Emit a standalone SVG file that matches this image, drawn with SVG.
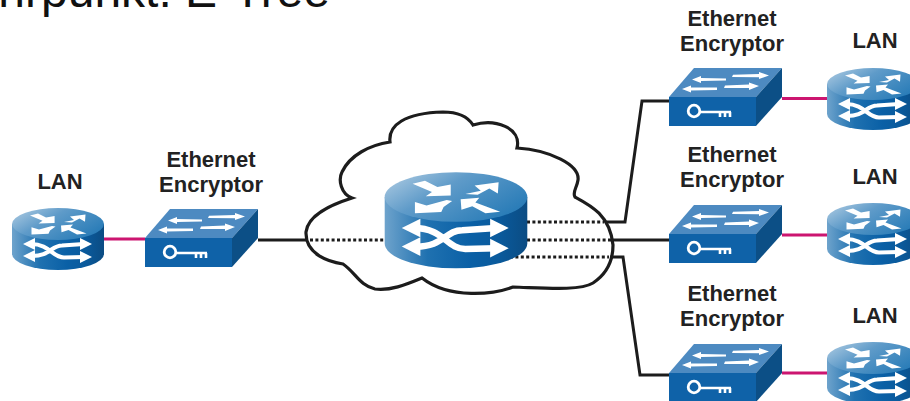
<svg xmlns="http://www.w3.org/2000/svg" width="910" height="401" viewBox="0 0 910 401">
<style>
text{font-family:"Liberation Sans",Arial,sans-serif;fill:#222}
.lbl{font-size:22px;font-weight:700;text-anchor:middle}
.title{font-size:48px;fill:#111;text-anchor:end}
.blk{fill:none;stroke:#1c1c1c;stroke-width:3}
.pnk{fill:none;stroke:#cc1570;stroke-width:3}
.dot{fill:none;stroke:#1c1c1c;stroke-width:3;stroke-dasharray:3 2.4}
.w{fill:#fff}
.ws{fill:none;stroke:#fff;stroke-width:4.2}
</style>
<defs>
<linearGradient id="rside" x1="0" x2="1" y1="0" y2="0"><stop offset="0" stop-color="#6ea3cc"/><stop offset=".3" stop-color="#1f71b0"/><stop offset=".6" stop-color="#0a60a6"/><stop offset=".8" stop-color="#0a5a9c"/><stop offset="1" stop-color="#0b4c83"/></linearGradient>
<linearGradient id="rtop" x1="0" x2="1" y1="0" y2=".6"><stop offset="0" stop-color="#b4cfe4"/><stop offset=".45" stop-color="#5f9bc9"/><stop offset="1" stop-color="#2b7db8"/></linearGradient>
<g id="router">
<path d="M-46,0V30A46,16 0 0 0 46,30V0Z" fill="url(#rside)"/>
<ellipse cx="0" cy="0" rx="46" ry="16" fill="url(#rtop)"/>
<polygon class="w" points="-28,-8.6 -20,-10.500 -12,-6.500 -3.400,-8 -3.400,-1 -19.500,-.5 -15.500,-3.300"/>
<polygon class="w" points="6,-2 16,-4 12,-7.500 27.500,-9.500 27,-2.300 21.500,-5.500 14,-1.500"/>
<polygon class="w" points="-26.500,10.500 -26.500,3.300 -19,5.500 -6,2 -2.500,2.500 -8,6.500 -9.500,9.700"/>
<polygon class="w" points="3,1.500 15,.5 12.500,3.500 28.500,9.500 19,10.500 10.500,6 3.500,8.300"/>
<path class="ws" d="M-27,20C-8,20 -6,33.500 6,33.500L26,33M-27,32C-8,32.500 -7,21.500 4,21.500L26,20"/>
<polygon class="w" points="-35,20 -23,14 -23,26"/>
<polygon class="w" points="-35,32 -23,26 -23,38"/>
<polygon class="w" points="34,20 22,14 22,26"/>
<polygon class="w" points="34,33 22,27 22,39"/>
</g>
<g id="switch">
<polygon points="0,0 25,-29 113,-29 87,0" fill="#4d8ac1"/>
<polygon points="87,0 113,-29 113,0 87,29" fill="#0c4f86"/>
<rect x="0" y="0" width="87" height="29" fill="#0f62a8"/>
<polygon class="w" points="23,-17.500 32,-21 32,-19 57,-18.500 57,-16.500 32,-16 32,-14"/>
<polygon class="w" points="100,-21.500 90,-25 90,-23 64,-22.300 63,-20 90,-19.800 90,-18"/>
<polygon class="w" points="13,-8 22,-11.500 22,-9.500 48,-9.500 48,-7 22,-6.500 22,-4.500"/>
<polygon class="w" points="90,-11 80,-14.500 80,-12.500 56,-11.500 55,-9 80,-9 80,-7"/>
<circle cx="25" cy="14" r="5.800" fill="none" stroke="#fff" stroke-width="2.800"/>
<path d="M31,15H62M51,15V20M56,15V20M61,15V20" fill="none" stroke="#fff" stroke-width="2.600"/>
</g>
</defs>

<text class="title" x="330" y="7">hrpunkt: E-Tree</text>

<g id="cloud">
<path d="M352,198C341,194 338,180 342,172C350,155 370,145 390,142C388,125 405,113 443,112C460,112 468,117 473,125C495,118 522,128 517,148C550,150 580,165 578,180C577,188 572,192 575,197C590,205 610,215 613,245C613,262 605,275 593,283C580,291 545,288 513,287C495,294 450,300 422,278C405,285 390,291 375,289C360,286 355,272 343,264C330,262 305,255 306,232C308,215 330,205 352,198Z" fill="#fff" stroke="#1c1c1c" stroke-width="3.200" stroke-linejoin="miter"/>
</g>

<g id="connectors">
<path class="pnk" d="M104,239H145"/>
<path class="blk" d="M258,240H308"/>
<path class="dot" d="M310,240H385"/>
<path class="dot" d="M527,222H604M527,240H611M510,257H609"/>
<path class="blk" d="M606,222H625L642,101H669"/>
<path class="blk" d="M612,240H669"/>
<path class="blk" d="M610,257H623L640,375H669"/>
<path class="pnk" d="M782,98.500H827"/>
<path class="pnk" d="M782,235H827"/>
<path class="pnk" d="M782,373H827"/>
</g>

<g id="core-router"><use href="#router" transform="translate(456,197) scale(1.55)"/></g>

<g id="lan-left"><use href="#router" x="58" y="224"/><text class="lbl" x="60" y="189">LAN</text></g>
<g id="enc-left"><use href="#switch" x="145" y="238"/><text class="lbl" x="211" y="167">Ethernet</text><text class="lbl" x="211" y="192">Encryptor</text></g>

<g id="enc-top"><use href="#switch" x="669" y="97"/><text class="lbl" x="732" y="26">Ethernet</text><text class="lbl" x="732" y="51">Encryptor</text></g>
<g id="lan-top"><use href="#router" x="873" y="84"/><text class="lbl" x="875" y="48">LAN</text></g>

<g id="enc-mid"><use href="#switch" x="669" y="234"/><text class="lbl" x="732" y="162">Ethernet</text><text class="lbl" x="732" y="187">Encryptor</text></g>
<g id="lan-mid"><use href="#router" x="873" y="219"/><text class="lbl" x="875" y="184">LAN</text></g>

<g id="enc-bot"><use href="#switch" x="669" y="373"/><text class="lbl" x="732" y="301">Ethernet</text><text class="lbl" x="732" y="326">Encryptor</text></g>
<g id="lan-bot"><use href="#router" x="873" y="358"/><text class="lbl" x="875" y="323">LAN</text></g>
</svg>
